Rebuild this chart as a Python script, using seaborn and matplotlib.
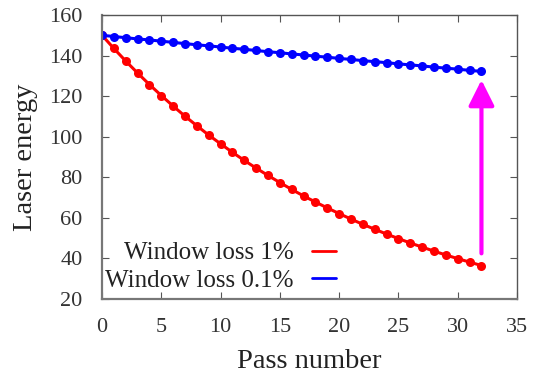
import matplotlib
matplotlib.use("Agg")
import matplotlib.pyplot as plt
import seaborn as sns
import pandas as pd
from matplotlib.lines import Line2D

passes = list(range(33))
loss_1pct = [150.0, 143.5, 137.3, 131.4, 125.7, 120.3, 115.1, 110.1, 105.4, 100.8,
             96.5, 92.3, 88.3, 84.5, 80.9, 77.4, 74.0, 70.8, 67.8, 64.9,
             62.1, 59.4, 56.8, 54.4, 52.0, 49.8, 47.6, 45.6, 43.6, 41.7,
             39.9, 38.2, 36.5]
loss_01pct = [150.0, 149.4, 148.8, 148.2, 147.7, 147.1, 146.5, 145.9, 145.3, 144.8,
              144.2, 143.6, 143.1, 142.5, 141.9, 141.4, 140.8, 140.3, 139.7, 139.2,
              138.6, 138.1, 137.5, 137.0, 136.5, 135.9, 135.4, 134.9, 134.3, 133.8,
              133.3, 132.7, 132.2]
labels = ["Window loss 1%", "Window loss 0.1%"]
colors = ["#ff0000", "#0000ff"]
arrow_x = 32
arrow_from = 42.5
arrow_to = 128.0
x_ticks = [0, 5, 10, 15, 20, 25, 30, 35]
y_ticks = [20, 40, 60, 80, 100, 120, 140, 160]

sns.set_theme(style="white")
plt.rcParams['font.family'] = ['Liberation Serif', 'DejaVu Serif']

df = pd.DataFrame({
    "pass": passes * 2,
    "energy": loss_1pct + loss_01pct,
    "series": [labels[0]] * len(passes) + [labels[1]] * len(passes),
})

fig = plt.figure(figsize=(5.35, 3.74), dpi=100)
ax = fig.add_axes([0.1907, 0.2005, 0.7757, 0.7594])

sns.lineplot(data=df, x="pass", y="energy", hue="series", palette=colors,
             marker="o", markersize=6.5, markeredgewidth=0, linewidth=2.2,
             ax=ax, legend=False)

ax.annotate("", xy=(arrow_x, arrow_to), xytext=(arrow_x, arrow_from),
            arrowprops=dict(arrowstyle="-|>,head_length=1.3,head_width=0.65",
                            color="#ff00ff", lw=3, shrinkA=0, shrinkB=0))

ax.set_xlim(0, 35)
ax.set_ylim(20, 160)
ax.set_xticks(x_ticks)
ax.set_yticks(y_ticks)
ax.tick_params(direction="in", length=5, width=0.8, color="#555555",
               labelsize=16, labelcolor="#333333", top=True, right=True,
               bottom=True, left=True)
ax.tick_params(axis="y", pad=14)
ax.tick_params(axis="x", pad=14)
for s in ax.spines.values():
    s.set_color("#555555")
    s.set_linewidth(1.0)
ax.spines["left"].set_linewidth(1.6)
ax.spines["left"].set_color("#777777")
ax.spines["bottom"].set_linewidth(1.6)
ax.spines["bottom"].set_color("#777777")
ax.set_xlabel("Pass number", fontsize=20.5, color="#222222", labelpad=8)
ax.set_ylabel("Laser energy", fontsize=20.5, color="#222222", labelpad=8)

# legend (gnuplot style: text right-aligned, sample to the right)
handles = [Line2D([0], [0], color=c, lw=2) for c in colors]
leg = ax.legend(handles, labels, loc="lower left", bbox_to_anchor=(-0.029, -0.028),
                frameon=False, markerfirst=False, fontsize=18, handlelength=0.95,
                handletextpad=0.75, labelspacing=0.2, borderaxespad=0.2)
for t in leg.get_texts():
    t.set_color("#222222")
    t.set_ha("right")
leg._legend_box.align = "right"

fig.savefig("out.png", dpi=100)
